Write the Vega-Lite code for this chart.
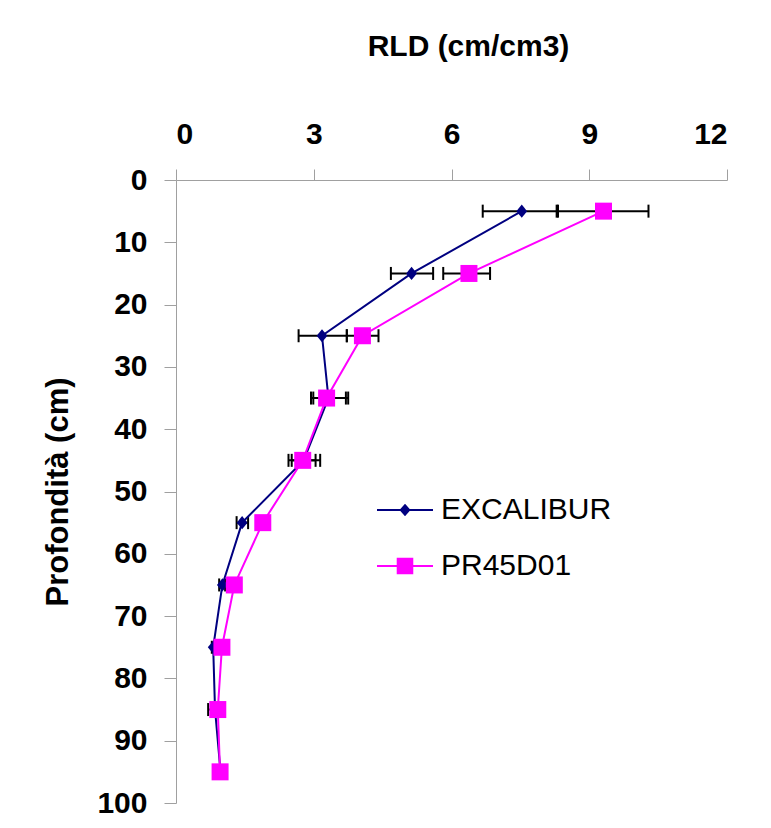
{
  "$schema": "https://vega.github.io/schema/vega-lite/v6.json",
  "width": 551,
  "height": 623,
  "autosize": {"type": "none"},
  "padding": {"left": 176, "top": 180, "right": 44, "bottom": 25},
  "background": "white",
  "config": {
    "view": {"stroke": null},
    "font": "Liberation Sans",
    "axisX": {
      "grid": false,
      "domainColor": "#a0a0a0",
      "tickColor": "#a0a0a0",
      "tickSize": 11,
      "labelPadding": 20,
      "labelFont": "Liberation Sans",
      "labelFontSize": 30,
      "labelFontWeight": "bold",
      "labelColor": "black",
      "titleFont": "Liberation Sans",
      "titleFontSize": 30,
      "titleFontWeight": "bold",
      "titleColor": "black",
      "titlePadding": 58
    }
  },
  "data": {
    "values": [
      {"series": "EXCALIBUR", "depth": 5, "rld": 7.53, "lo": 6.68, "hi": 8.29},
      {"series": "EXCALIBUR", "depth": 15, "rld": 5.13, "lo": 4.68, "hi": 5.6},
      {"series": "EXCALIBUR", "depth": 25, "rld": 3.18, "lo": 2.67, "hi": 3.72},
      {"series": "EXCALIBUR", "depth": 35, "rld": 3.32, "lo": 2.94, "hi": 3.7},
      {"series": "EXCALIBUR", "depth": 45, "rld": 2.78, "lo": 2.52, "hi": 3.04},
      {"series": "EXCALIBUR", "depth": 55, "rld": 1.44, "lo": 1.32, "hi": 1.57},
      {"series": "EXCALIBUR", "depth": 65, "rld": 1.01, "lo": 0.94, "hi": 1.07},
      {"series": "EXCALIBUR", "depth": 75, "rld": 0.81, "lo": 0.78, "hi": 0.84},
      {"series": "EXCALIBUR", "depth": 85, "rld": 0.85, "lo": 0.7, "hi": 1.0},
      {"series": "EXCALIBUR", "depth": 95, "rld": 0.97, "lo": 0.94, "hi": 1.0},
      {"series": "PR45D01", "depth": 5, "rld": 9.31, "lo": 8.32, "hi": 10.29},
      {"series": "PR45D01", "depth": 15, "rld": 6.38, "lo": 5.82, "hi": 6.84},
      {"series": "PR45D01", "depth": 25, "rld": 4.06, "lo": 3.72, "hi": 4.41},
      {"series": "PR45D01", "depth": 35, "rld": 3.28, "lo": 2.99, "hi": 3.75},
      {"series": "PR45D01", "depth": 45, "rld": 2.76, "lo": 2.45, "hi": 3.14},
      {"series": "PR45D01", "depth": 55, "rld": 1.89, "lo": 1.8, "hi": 1.98},
      {"series": "PR45D01", "depth": 65, "rld": 1.27, "lo": 1.19, "hi": 1.35},
      {"series": "PR45D01", "depth": 75, "rld": 1.0, "lo": 0.93, "hi": 1.07},
      {"series": "PR45D01", "depth": 85, "rld": 0.91, "lo": 0.84, "hi": 0.98},
      {"series": "PR45D01", "depth": 95, "rld": 0.96, "lo": 0.9, "hi": 1.02}
    ]
  },
  "encoding": {
    "y": {
      "field": "depth",
      "type": "quantitative",
      "scale": {"domain": [0, 100], "reverse": true, "nice": false, "zero": false},
      "axis": {
        "title": "Profondità (cm)",
        "values": [0, 10, 20, 30, 40, 50, 60, 70, 80, 90, 100],
        "grid": false,
        "domainColor": "#a0a0a0",
        "tickColor": "#a0a0a0",
        "tickSize": 12,
        "labelPadding": 17,
        "labelFont": "Liberation Sans",
        "labelFontSize": 30,
        "labelFontWeight": "bold",
        "labelColor": "black",
        "titleFont": "Liberation Sans",
        "titleFontSize": 31,
        "titleFontWeight": "bold",
        "titleColor": "black",
        "titlePadding": 22
      }
    }
  },
  "layer": [
    {
      "mark": {"type": "rule", "color": "black", "strokeWidth": 2, "opacity": 1},
      "encoding": {
        "x": {"field": "lo", "type": "quantitative", "scale": {"domain": [0, 12], "nice": false},
              "axis": {"orient": "top", "title": "RLD (cm/cm3)", "values": [0, 3, 6, 9, 12], "titleX": 292}},
        "x2": {"field": "hi"}
      }
    },
    {
      "mark": {"type": "tick", "color": "black", "orient": "vertical", "size": 13, "thickness": 2, "opacity": 1},
      "encoding": {
        "x": {"field": "lo", "type": "quantitative",
              "axis": {"orient": "top", "title": "RLD (cm/cm3)", "values": [0, 3, 6, 9, 12], "titleX": 292}}
      }
    },
    {
      "mark": {"type": "tick", "color": "black", "orient": "vertical", "size": 13, "thickness": 2, "opacity": 1},
      "encoding": {
        "x": {"field": "hi", "type": "quantitative",
              "axis": {"orient": "top", "title": "RLD (cm/cm3)", "values": [0, 3, 6, 9, 12], "titleX": 292}}
      }
    },
    {
      "mark": {"type": "line", "strokeWidth": 2},
      "encoding": {
        "x": {"field": "rld", "type": "quantitative",
              "axis": {"orient": "top", "title": "RLD (cm/cm3)", "values": [0, 3, 6, 9, 12], "titleX": 292}},
        "color": {
          "field": "series",
          "type": "nominal",
          "scale": {"domain": ["EXCALIBUR", "PR45D01"], "range": ["#000080", "#FF00FF"]},
          "legend": {
            "orient": "none",
            "legendX": 200,
            "legendY": 301,
            "title": null,
            "padding": 0,
            "rowPadding": 12,
            "symbolSize": 3136,
            "labelOffset": 7,
            "labelFont": "Liberation Sans",
            "labelFontSize": 30,
            "labelColor": "black",
            "labelLimit": 400,
            "encode": {
              "symbols": {
                "update": {
                  "shape": {"signal": "datum.value === 'EXCALIBUR' ? 'M-1,0L1,0M0,-0.17L0.15,0L0,0.17L-0.15,0Z' : 'M-1,0L1,0M-0.26,-0.26L0.26,-0.26L0.26,0.26L-0.26,0.26Z'"},
                  "fill": {"scale": "color", "field": "value"},
                  "stroke": {"scale": "color", "field": "value"},
                  "strokeWidth": {"value": 2},
                  "opacity": {"value": 1},
                  "fillOpacity": {"value": 1},
                  "strokeOpacity": {"value": 1}
                }
              }
            }
          }
        },
        "order": {"field": "depth", "type": "quantitative"}
      }
    },
    {
      "transform": [{"filter": "datum.series === 'EXCALIBUR'"}],
      "mark": {"type": "point", "filled": true, "opacity": 1, "color": "#000080", "shape": "M0,-1.1L0.9,0L0,1.1L-0.9,0Z", "size": 144, "strokeWidth": 0},
      "encoding": {
        "x": {"field": "rld", "type": "quantitative",
              "axis": {"orient": "top", "title": "RLD (cm/cm3)", "values": [0, 3, 6, 9, 12], "titleX": 292}}
      }
    },
    {
      "transform": [{"filter": "datum.series === 'PR45D01'"}],
      "mark": {"type": "point", "filled": true, "opacity": 1, "color": "#FF00FF", "shape": "square", "size": 289, "strokeWidth": 0},
      "encoding": {
        "x": {"field": "rld", "type": "quantitative",
              "axis": {"orient": "top", "title": "RLD (cm/cm3)", "values": [0, 3, 6, 9, 12], "titleX": 292}}
      }
    }
  ]
}
